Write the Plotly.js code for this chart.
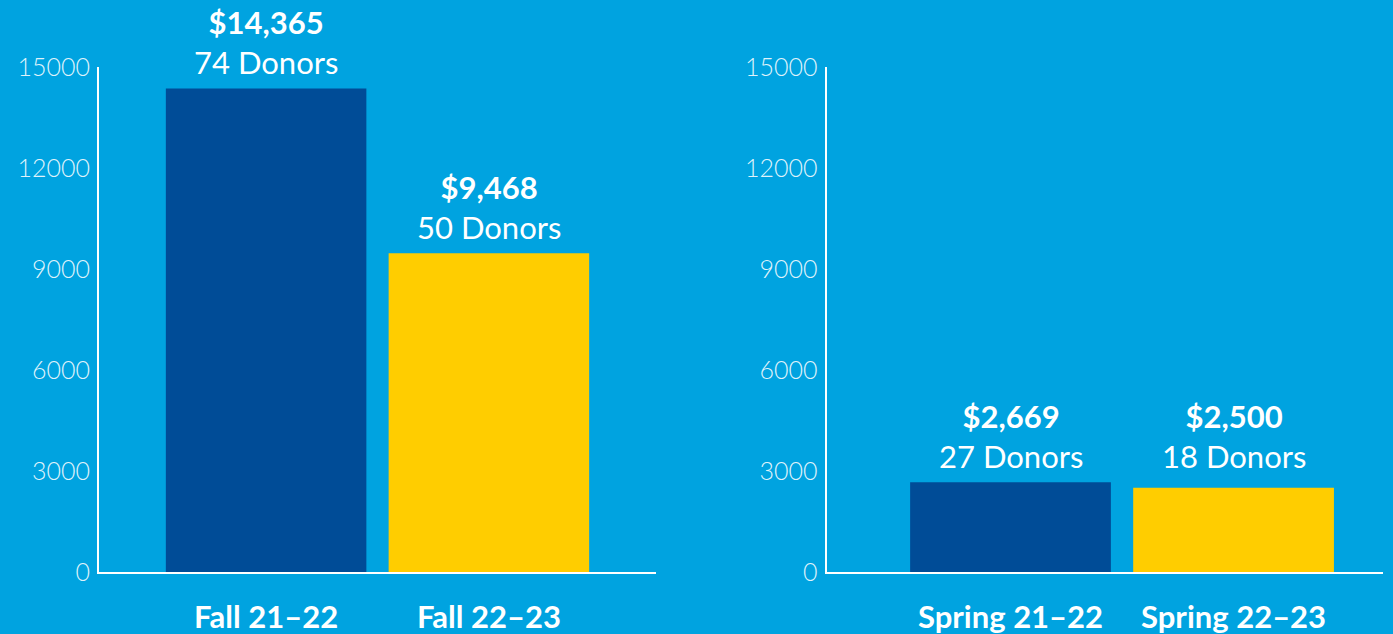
<!DOCTYPE html>
<html>
<head>
<meta charset="utf-8">
<script src="https://cdn.plot.ly/plotly-3.0.1.min.js"></script>
<style>html,body{margin:0;padding:0;background:#00A3E0;}#chart{width:1393px;height:634px;}</style>
</head>
<body>
<div id="chart"></div>
<script>
const fallCategories = ["Fall 21–22", "Fall 22–23"];
const fallAmounts = [14365, 9468];
const fallDonors = [74, 50];
const springCategories = ["Spring 21–22", "Spring 22–23"];
const springAmounts = [2669, 2500];
const springDonors = [27, 18];
const barColors = ["#004C97", "#FFCD00"];
const yTicks = [0, 3000, 6000, 9000, 12000, 15000];

const fmt = v => "$" + v.toLocaleString("en-US");
const FONT = "Lato, 'Open Sans', sans-serif";

const traces = [
  {type: "bar", x: fallCategories, y: fallAmounts, xaxis: "x", yaxis: "y",
   marker: {color: barColors}, width: 0.9, hoverinfo: "none"},
  {type: "bar", x: springCategories, y: springAmounts, xaxis: "x2", yaxis: "y2",
   marker: {color: barColors}, width: 0.9, hoverinfo: "none"}
];

const annotations = [];
function addLabels(cats, amounts, donors, xa, ya, alignTop) {
  const top = Math.max(...amounts);
  cats.forEach((c, i) => {
    annotations.push({
      x: c, y: alignTop ? top : amounts[i], xref: xa, yref: ya,
      text: "<b>" + fmt(amounts[i]) + "</b><br>" + donors[i] + " Donors",
      showarrow: false, xanchor: "center", yanchor: "bottom", yshift: 5,
      font: {family: FONT, size: 31, color: "#ffffff"}
    });
  });
}
addLabels(fallCategories, fallAmounts, fallDonors, "x", "y", false);
addLabels(springCategories, springAmounts, springDonors, "x2", "y2", true);

const yaxisBase = {
  range: [0, 15000], tickvals: yTicks, ticktext: yTicks.map(String),
  showgrid: false, zeroline: false, showline: true, linecolor: "#ffffff", linewidth: 2,
  ticks: "outside", ticklen: 2, tickcolor: "rgba(0,0,0,0)",
  tickfont: {family: FONT, size: 25, color: "#dff2fb", weight: 300},
  domain: [62/634, 567/634], fixedrange: true
};
const xaxisBase = {
  type: "category", showgrid: false, zeroline: false, showline: true,
  linecolor: "#ffffff", linewidth: 2, ticks: "outside", ticklen: 17,
  tickcolor: "rgba(0,0,0,0)",
  tickfont: {family: FONT, size: 31, color: "#ffffff", weight: "bold"},
  fixedrange: true
};

const layout = {
  width: 1393, height: 634,
  margin: {l: 0, r: 0, t: 0, b: 0},
  paper_bgcolor: "#00A3E0", plot_bgcolor: "#00A3E0",
  showlegend: false, bargap: 0.1,
  xaxis: Object.assign({}, xaxisBase, {domain: [99/1393, 656/1393], range: [-0.75, 1.75], anchor: "y"}),
  xaxis2: Object.assign({}, xaxisBase, {domain: [826.5/1393, 1383/1393], range: [-0.825, 1.67], anchor: "y2"}),
  yaxis: Object.assign({}, yaxisBase, {anchor: "x"}),
  yaxis2: Object.assign({}, yaxisBase, {anchor: "x2"}),
  annotations: annotations
};

Plotly.newPlot("chart", traces, layout, {displayModeBar: false, staticPlot: true});
</script>
</body>
</html>
